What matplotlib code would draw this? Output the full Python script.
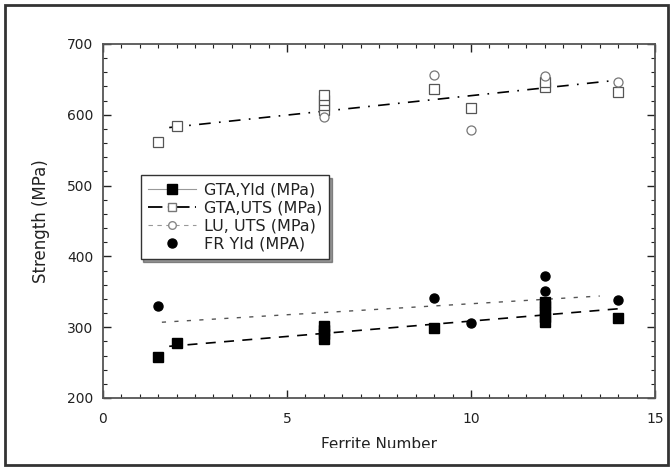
import matplotlib.pyplot as plt
from matplotlib.patches import Rectangle
from matplotlib.ticker import MultipleLocator

# ferrite number vs strength
gtaYldX = [1.5, 2, 6, 6, 6, 6, 9, 12, 12, 12, 12, 12, 14]
gtaYldY = [258, 278, 284, 290, 296, 302, 299, 308, 315, 322, 330, 336, 313]
gtaUtsX = [1.5, 2, 6, 6, 6, 6, 9, 10, 12, 12, 14]
gtaUtsY = [562, 584, 607, 614, 621, 628, 637, 610, 639, 646, 632]
luUtsX = [6, 9, 10, 12, 14]
luUtsY = [597, 656, 579, 655, 646]
frYldX = [1.5, 9, 10, 12, 12, 14]
frYldY = [330, 341, 306, 372, 351, 338]

# trend line ends
gtaYldFitX = [1.8, 14]
gtaYldFitY = [273, 326]
utsFitX = [1.8, 14]
utsFitY = [582, 649]
frFitX = [1.6, 13.5]
frFitY = [307, 344]

plt.rcParams['font.family'] = ['DejaVu Sans']
fig = plt.figure(figsize=(6.71, 4.68), dpi=100)

fig.patches.append(Rectangle((0.008, 0.006), 0.988, 0.984, transform=fig.transFigure,
                             fill=False, edgecolor='#333333', linewidth=2, zorder=20))
# the label is cut off at the bottom in the source
fig.patches.append(Rectangle((0.3, 0.012), 0.5, 0.031, transform=fig.transFigure,
                             facecolor='white', edgecolor='none', zorder=10))

ax = fig.add_axes([0.1535, 0.1496, 0.8226, 0.7564])

ax.plot(gtaYldFitX, gtaYldFitY, color='black', linewidth=1.2, dashes=(6, 5))
ax.plot(utsFitX, utsFitY, color='black', linewidth=1.2, dashes=(7, 5, 1, 5))
ax.plot(frFitX, frFitY, color='#555555', linewidth=1.0, dashes=(3, 6))

ax.plot(gtaYldX, gtaYldY, linestyle='none', marker='s', markersize=7,
        color='black')
ax.plot(gtaUtsX, gtaUtsY, linestyle='none', marker='s', markersize=6.5,
        markerfacecolor='white', markeredgecolor='#555555', markeredgewidth=0.9)
ax.plot(luUtsX, luUtsY, linestyle='none', marker='o', markersize=6.5,
        markerfacecolor='white', markeredgecolor='#777777', markeredgewidth=0.9)
ax.plot(frYldX, frYldY, linestyle='none', marker='o', markersize=6.5,
        color='black')

ax.set_xlim(0, 15)
ax.set_ylim(200, 700)
ax.xaxis.set_major_locator(MultipleLocator(5))
ax.xaxis.set_minor_locator(MultipleLocator(0.5))
ax.yaxis.set_major_locator(MultipleLocator(100))
ax.yaxis.set_minor_locator(MultipleLocator(20))
ax.tick_params(which='both', direction='in', top=True, right=True,
               labelsize=10, colors='#222222')
ax.tick_params(axis='x', pad=10)
ax.tick_params(axis='y', pad=7)
ax.tick_params(which='major', length=6, width=1)
ax.tick_params(which='minor', length=3, width=0.8)
for s in ax.spines.values():
    s.set_color('#555555')
    s.set_linewidth(1.3)

ax.set_xlabel('Ferrite Number', fontsize=11, labelpad=8, color='#222222')
ax.set_ylabel('Strength (MPa)', fontsize=12, labelpad=12, color='#222222')

# legend entries with their own line styles
h1, = ax.plot([], [], color='#999999', linewidth=0.8, marker='s', markersize=7,
              markerfacecolor='black', markeredgecolor='black')
h2, = ax.plot([], [], color='black', linewidth=1.3, dashes=(8, 3, 1, 3), marker='s',
              markersize=5.5, markerfacecolor='white', markeredgecolor='#777777')
h3, = ax.plot([], [], color='#999999', linewidth=0.8, dashes=(4, 4), marker='o',
              markersize=5.5, markerfacecolor='white', markeredgecolor='#888888')
h4, = ax.plot([], [], linestyle='none', marker='o', markersize=6.5, color='black')
leg = ax.legend([h1, h2, h3, h4],
                ['GTA,Yld (MPa)', 'GTA,UTS (MPa)', 'LU, UTS (MPa)', 'FR Yld (MPA)'],
                loc='upper left', bbox_to_anchor=(0.068, 0.63), fontsize=11.5,
                frameon=True, fancybox=False, shadow={'color': '#333333'},
                handlelength=3.0, labelspacing=0.2, borderpad=0.45,
                handletextpad=0.5, borderaxespad=0)
leg.get_frame().set_edgecolor('#333333')
leg.get_frame().set_linewidth(1)
for t in leg.get_texts():
    t.set_color('#222222')

fig.savefig('out.png', dpi=100)
